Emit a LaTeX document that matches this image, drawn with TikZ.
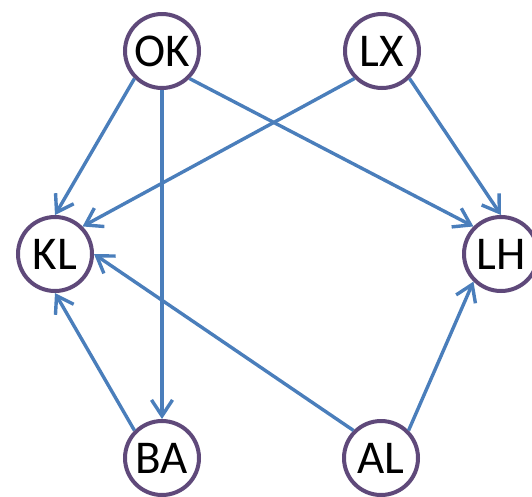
\documentclass[tikz,border=0pt]{standalone}
\usepackage{fontspec}
\setmainfont{Carlito}
\usetikzlibrary{arrows.meta}
\definecolor{ringpurple}{HTML}{5F497A}
\definecolor{linkblue}{HTML}{4A7EBB}
\begin{document}
\begin{tikzpicture}[x=1pt,y=-1pt,
  vertex/.style={circle, draw=ringpurple, line width=4pt, fill=white,
    minimum size=74pt, inner sep=0pt,
    font=\fontsize{47}{50}\selectfont},
  link/.style={draw=linkblue, line width=3.4pt,
    -{Straight Barb[length=16pt,width=21pt]}}]
\useasboundingbox (0,0) rectangle (532,496);
% vertices
\node[vertex] (OK) at (162,51)  {OK};
\node[vertex] (LX) at (382,51)  {LX};
\node[vertex] (KL) at (55,254)  {KL};
\node[vertex] (LH) at (501,254) {LH};
\node[vertex] (BA) at (162,458) {BA};
\node[vertex] (AL) at (381,458) {AL};
% directed links
\draw[link] (OK.south west) -- (KL.north);
\draw[link] (OK.south)      -- (BA.north);
\draw[link] (OK.south east) -- (LH.north west);
\draw[link] (LX.south west) -- (KL.north east);
\draw[link] (LX.south east) -- (LH.north);
\draw[link] (BA.north west) -- (KL.south);
\draw[link] (AL.north west) -- (KL.east);
\draw[link] (AL.north east) -- (LH.south west);
\end{tikzpicture}
\end{document}
